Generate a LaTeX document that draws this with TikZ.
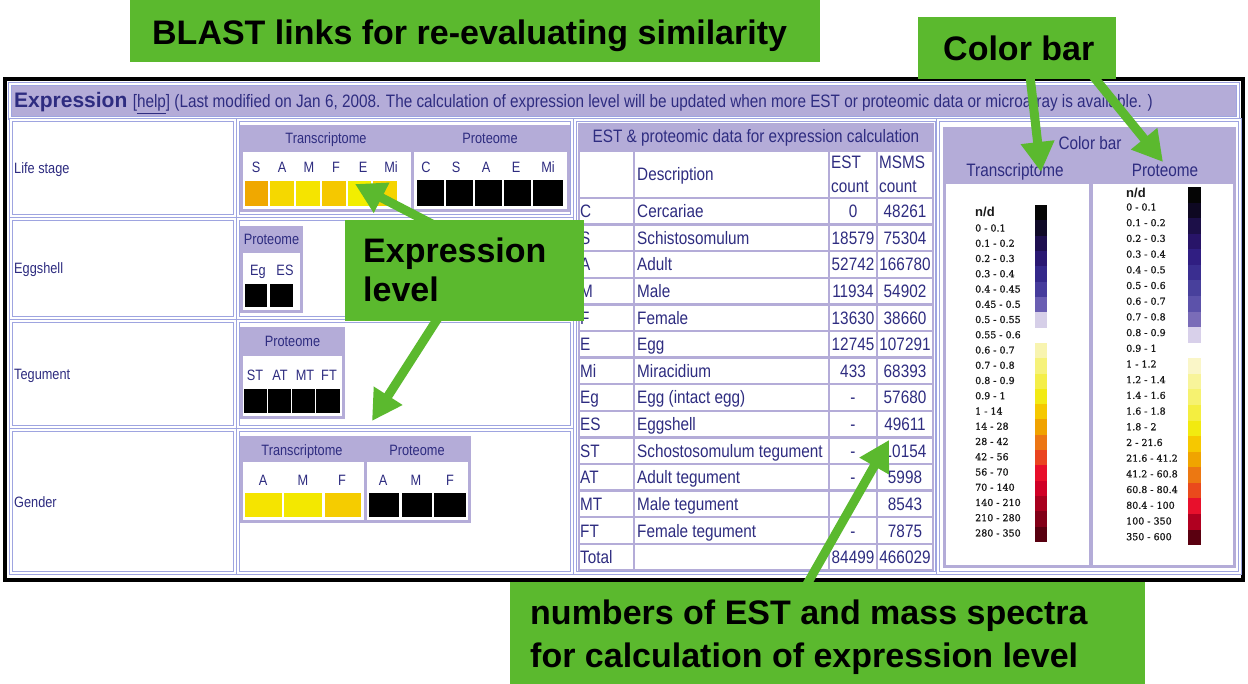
\documentclass[tikz,border=0pt]{standalone}
\usepackage{fontspec}
\setmainfont{Liberation Sans}
\newfontfamily\narrowfont[FakeStretch=0.85]{Liberation Sans}
\newfontfamily\scalefont[FakeBold=1.2]{DejaVu Serif}
\usetikzlibrary{arrows.meta}

\definecolor{callout}{HTML}{5BB92E}
\definecolor{lav}{HTML}{B4ACD8}
\definecolor{cellline}{HTML}{9EA4E0}
\definecolor{ink}{HTML}{2E2C80}
\definecolor{scaleink}{HTML}{1A1A1A}

\tikzset{
  calloutbox/.style={fill=callout, draw=none},
  callouttext/.style={font=\fontsize{34}{40}\selectfont\bfseries, text=black, inner sep=0pt, anchor=base west},
  pointer/.style={draw=callout, line width=9pt, -{Triangle[length=30pt,width=32pt]}},
  cell/.style={draw=cellline, line width=0.9pt, double=white, double distance=1.4pt},
  lbl/.style={font=\narrowfont\fontsize{15}{17}\selectfont, text=ink, inner sep=0pt, anchor=base},
  tbl/.style={font=\narrowfont\fontsize{18}{20}\selectfont, text=ink, inner sep=0pt},
  tick/.style={font=\scalefont\fontsize{9.5}{11}\selectfont, text=scaleink, inner sep=0pt, anchor=west},
  nd/.style={font=\fontsize{13}{14}\selectfont\bfseries, text=scaleink, inner sep=0pt, anchor=west},
}

\begin{document}
\begin{tikzpicture}[x=1pt,y=-1pt]
\useasboundingbox (0,0) rectangle (1248,684);
\fill[white] (0,0) rectangle (1248,684);

% ---------- page frame and title bar ----------
\draw[black, line width=3.5pt] (5,79) rectangle (1243,580);
\draw[cell, fill=lav] (10,84) rectangle (1238,118);
\node[anchor=base west, inner sep=0pt, text=ink, font=\fontsize{21}{24}\selectfont\bfseries] (title) at (14,108) {Expression};
\node[anchor=base west, inner sep=0pt, text=ink, font=\narrowfont\fontsize{18}{20}\selectfont] (titlenote) at ([xshift=5pt]title.base east) {[\underline{help}] (Last modified on Jan 6, 2008. The calculation of expression level will be updated when more EST or proteomic data or microarray is available. )};

% ---------- left panel: rows ----------
\foreach \ya/\yb/\name/\lab in {120/216/ls/Life stage, 219/318/eg/Eggshell, 321/427/tg/Tegument, 430/573/gd/Gender}{
  \draw[cell] (11,\ya) rectangle (235,\yb);
  \draw[cell] (238,\ya) rectangle (572,\yb);
  \node[lbl, anchor=base west] (\name-label) at (14,{(\ya+\yb)/2+5.5}) {\lab};
}

% life stage
\fill[lav] (240,125) rectangle (570,212);
\fill[white] (243,152) rectangle (411,209);
\fill[white] (414,152) rectangle (567,209);
\node[lbl] (ls-th) at (326,143.5) {Transcriptome};
\node[lbl] (ls-ph) at (490,143.5) {Proteome};
\foreach \l/\x/\xa/\xb/\c [count=\i] in {S/256/245/268/F0A800, A/282/270/294/F5D800, M/309/296/320/F5E400, F/336/322/346/F5C800, E/363/348/371/F2EE00, Mi/391/373/397/F5D400}{
  \node[lbl] (ls-t\i) at (\x,172.5) {\l};
  \definecolor{swatch}{HTML}{\c}
  \fill[swatch] (\xa,181) rectangle (\xb,206);
}
\foreach \l/\x/\xa/\xb [count=\i] in {C/426/417/444, S/456/446/473, A/486/475/502, E/516/504/531, Mi/548/533/563}{
  \node[lbl] (ls-p\i) at (\x,172.5) {\l};
  \fill[black] (\xa,180) rectangle (\xb,206);
}

% eggshell
\fill[lav] (240,226) rectangle (303,313);
\fill[white] (243,253) rectangle (300,310);
\node[lbl] (eg-ph) at (271.5,244.5) {Proteome};
\foreach \l/\x/\xa/\xb [count=\i] in {Eg/258/245/267, ES/285/270/293}{
  \node[lbl] (eg-p\i) at (\x,275.5) {\l};
  \fill[black] (\xa,284) rectangle (\xb,307);
}

% tegument
\fill[lav] (240,327) rectangle (345,419);
\fill[white] (243,356) rectangle (342,416);
\node[lbl] (tg-ph) at (292.5,346.5) {Proteome};
\foreach \l/\x/\xa/\xb [count=\i] in {ST/255/244/267, AT/280/268/291, MT/305/292/315, FT/329/316/340}{
  \node[lbl] (tg-p\i) at (\x,380.5) {\l};
  \fill[black] (\xa,389) rectangle (\xb,413);
}

% gender
\fill[lav] (240,436) rectangle (471,523);
\fill[white] (243,462) rectangle (364,520);
\fill[white] (367,462) rectangle (468,520);
\node[lbl] (gd-th) at (302,455.5) {Transcriptome};
\node[lbl] (gd-ph) at (417,455.5) {Proteome};
\foreach \l/\x/\xa/\xb/\c [count=\i] in {A/263/245/282/F5E400, M/303/284/322/F3E800, F/342/325/361/F5CC00}{
  \node[lbl] (gd-t\i) at (\x,485.5) {\l};
  \definecolor{swatch}{HTML}{\c}
  \fill[swatch] (\xa,493) rectangle (\xb,517);
}
\foreach \l/\x/\xa/\xb [count=\i] in {A/383/369/399, M/416/402/432, F/450/434/466}{
  \node[lbl] (gd-p\i) at (\x,485.5) {\l};
  \fill[black] (\xa,493) rectangle (\xb,517);
}

% ---------- middle panel: counts table ----------
\draw[cell] (575,120) rectangle (937,573);
\fill[lav] (578,123) rectangle (934,571);
\node[tbl, anchor=base] (tab-title) at (756,142.5) {EST \& proteomic data for expression calculation};
% header row cells
\foreach \xa/\xb in {579/634, 634/829, 829/877, 877/933}
  \fill[white] (\xa+1.2,152.2) rectangle (\xb-1.2,196.8);
\node[tbl, anchor=base west] (tab-desc) at (637,180.5) {Description};
\node[tbl, anchor=base west] (tab-est1) at (831,168.5) {EST};
\node[tbl, anchor=base west] (tab-est2) at (831,192.5) {count};
\node[tbl, anchor=base west] (tab-ms1) at (879,168.5) {MSMS};
\node[tbl, anchor=base west] (tab-ms2) at (879,192.5) {count};
% data rows
\foreach \code/\desc/\est/\ms [count=\r] in {C/Cercariae/0/48261, S/Schistosomulum/18579/75304, A/Adult/52742/166780, M/Male/11934/54902, F/Female/13630/38660, E/Egg/12745/107291, Mi/Miracidium/433/68393, Eg/Egg (intact egg)/-/57680, ES/Eggshell/-/49611, ST/Schostosomulum tegument/-/10154, AT/Adult tegument/-/5998, MT/Male tegument/-/8543, FT/Female tegument/-/7875, Total//84499/466029}{
  \pgfmathsetmacro\ya{198+26.6*(\r-1)}
  \pgfmathsetmacro\yb{\ya+26.6}
  \pgfmathsetmacro\yc{\ya+13.3+6.5}
  \foreach \xa/\xb in {579/634, 634/829, 829/877, 877/933}
    \fill[white] (\xa+1.2,\ya+1.2) rectangle (\xb-1.2,\yb-1.2);
  \node[tbl, anchor=base west] (code-\r) at (580,\yc) {\code};
  \node[tbl, anchor=base west] (desc-\r) at (637,\yc) {\desc};
  \node[tbl, anchor=base] (est-\r) at (853,\yc) {\est};
  \node[tbl, anchor=base] (ms-\r) at (905,\yc) {\ms};
}

% ---------- right panel: colour scales ----------
\draw[cell] (938,120) rectangle (1240,573);
\fill[lav] (943,127) rectangle (1236,568);
\fill[white] (946,184) rectangle (1089,565);
\fill[white] (1093,184) rectangle (1233,565);
\node[tbl, anchor=base] (cb-title) at (1090,149.5) {Color bar};
\node[tbl, anchor=base] (cb-t) at (1015,176.5) {Transcriptome};
\node[tbl, anchor=base] (cb-p) at (1165,176.5) {Proteome};

% transcriptome scale
\foreach \c [count=\i from 0] in {050505,100A28,1E0F50,2A1872,34288A,463C9C,6A5EB2,D6CFE8,FFFFFF,F8F4B0,F6F27A,F4EE48,F2EA14,F5C800,F0A200,EC7614,EA4420,E80E2A,D00026,A8001E,820018,580010}{
  \definecolor{swatch}{HTML}{\c}
  \fill[swatch] (1035,{205+15.32*\i}) rectangle (1047,{205+15.32*(\i+1)});
}
\node[nd] (tt-0) at (975,212) {n/d};
\foreach \t [count=\i] in {0 - 0.1, 0.1 - 0.2, 0.2 - 0.3, 0.3 - 0.4, 0.4 - 0.45, 0.45 - 0.5, 0.5 - 0.55, 0.55 - 0.6, 0.6 - 0.7, 0.7 - 0.8, 0.8 - 0.9, 0.9 - 1, 1 - 14, 14 - 28, 28 - 42, 42 - 56, 56 - 70, 70 - 140, 140 - 210, 210 - 280, 280 - 350}
  \node[tick] (tt-\i) at (975,{228+15.25*(\i-1)}) {\t};

% proteome scale
\foreach \c [count=\i from 0] in {050505,0E0822,1C0F48,281468,301E82,3A2E90,48409C,5C52AA,7A6CB8,D8D0EA,FFFFFF,FAF6C8,F8F49A,F6F270,F4EE40,F2EA10,F6C800,F0A400,EC7812,EA4A1C,E8102C,B00020,5A0010}{
  \definecolor{swatch}{HTML}{\c}
  \fill[swatch] (1188,{187+15.57*\i}) rectangle (1201,{187+15.57*(\i+1)});
}
\node[nd] (pt-0) at (1126,193) {n/d};
\foreach \t [count=\i] in {0 - 0.1, 0.1 - 0.2, 0.2 - 0.3, 0.3 - 0.4, 0.4 - 0.5, 0.5 - 0.6, 0.6 - 0.7, 0.7 - 0.8, 0.8 - 0.9, 0.9 - 1, 1 - 1.2, 1.2 - 1.4, 1.4 - 1.6, 1.6 - 1.8, 1.8 - 2, 2 - 21.6, 21.6 - 41.2, 41.2 - 60.8, 60.8 - 80.4, 80.4 - 100, 100 - 350, 350 - 600}
  \node[tick] (pt-\i) at (1126,{207+15.7*(\i-1)}) {\t};

% ---------- green call-outs ----------
\fill[calloutbox] (130,0) rectangle (820,62);
\node[callouttext] (blast) at (152,45) {BLAST links for re-evaluating similarity};

\fill[calloutbox] (918,17) rectangle (1116,79);
\node[callouttext] (cbar) at (943,61) {Color bar};

\fill[calloutbox] (345,220) rectangle (584,321);
\node[callouttext] (expr1) at (363,263) {Expression};
\node[callouttext] (expr2) at (363,302) {level};

\fill[calloutbox] (510,582) rectangle (1145,684);
\node[callouttext] (num1) at (530,624) {numbers of EST and mass spectra};
\node[callouttext] (num2) at (530,667) {for calculation of expression level};

% arrows
\coordinate (a1s) at (432,224);
\coordinate (a1e) at (355,184);
\coordinate (a2s) at (438,318);
\coordinate (a2e) at (372,421);
\coordinate (a3s) at (1030,76);
\coordinate (a3e) at (1041,172);
\coordinate (a4s) at (1093,76);
\coordinate (a4e) at (1163,162);
\coordinate (a5s) at (806,586);
\coordinate (a5e) at (889,440);
\draw[pointer] (a1s) -- (a1e);
\draw[pointer] (a2s) -- (a2e);
\draw[pointer] (a3s) -- (a3e);
\draw[pointer] (a4s) -- (a4e);
\draw[pointer] (a5s) -- (a5e);
\end{tikzpicture}
\end{document}
